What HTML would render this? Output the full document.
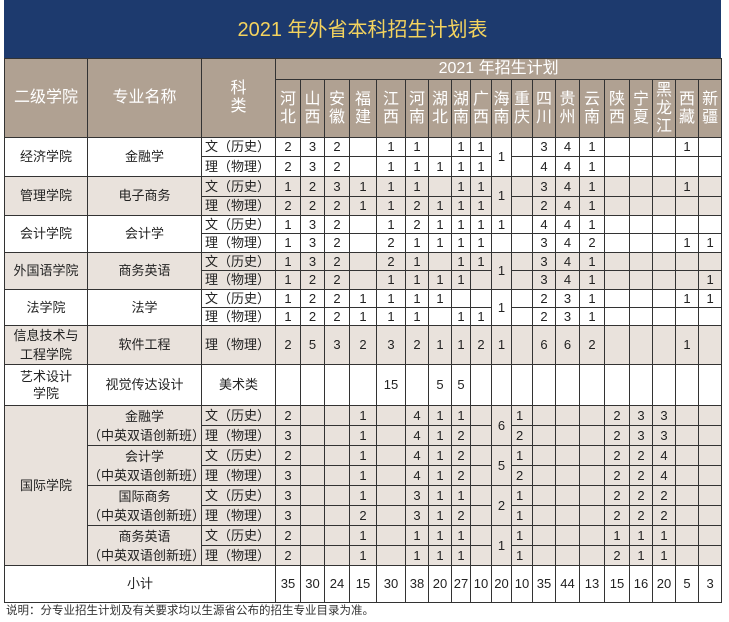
<!DOCTYPE html>
<html><head><meta charset="utf-8"><style>
body{margin:0;width:729px;height:622px;background:#fff;font-family:"Liberation Sans","Noto Sans CJK SC",sans-serif;position:relative;overflow:hidden}
.title{position:absolute;left:4px;top:0;width:717px;height:58px;background:#1d3a6e;color:#f4d35e;font-size:20px;line-height:60px;text-align:center}
table{position:absolute;left:4px;top:58px;border-collapse:collapse;table-layout:fixed;width:717px}
td{border:1px solid #333;padding:0;text-align:center;font-size:13px;line-height:14px;color:#222;overflow:hidden;white-space:nowrap}
thead td{background:#b0a192;color:#fff;font-size:16px;line-height:18px}
.b td{background:#e9e2dc}
.w td{background:#fff}
td.k{text-align:left;padding-left:3px;font-size:13px}
td.l{text-align:left;padding-left:4px}
td.m{line-height:19px}
.note{position:absolute;left:6px;top:604px;font-size:11.5px;line-height:14px;color:#333}
</style></head><body>
<div class="title">2021 年外省本科招生计划表</div>
<table>
<colgroup><col style="width:83px"><col style="width:114px"><col style="width:74px">
<col style="width:25px"><col style="width:24px"><col style="width:25px"><col style="width:27px"><col style="width:29px"><col style="width:23px"><col style="width:23px"><col style="width:19px"><col style="width:21px"><col style="width:20px"><col style="width:21px"><col style="width:23px"><col style="width:24px"><col style="width:25px"><col style="width:25px"><col style="width:23px"><col style="width:23px"><col style="width:23px"><col style="width:23px"></colgroup>
<thead>
<tr style="height:21px"><td rowspan="2">二级学院</td><td rowspan="2">专业名称</td><td rowspan="2">科<br>类</td><td colspan="19">2021 年招生计划</td></tr>
<tr style="height:58px"><td>河<br>北</td><td>山<br>西</td><td>安<br>徽</td><td>福<br>建</td><td>江<br>西</td><td>河<br>南</td><td>湖<br>北</td><td>湖<br>南</td><td>广<br>西</td><td>海<br>南</td><td>重<br>庆</td><td>四<br>川</td><td>贵<br>州</td><td>云<br>南</td><td>陕<br>西</td><td>宁<br>夏</td><td>黑<br>龙<br>江</td><td>西<br>藏</td><td>新<br>疆</td></tr>
</thead>
<tbody>
<tr class="w" style="height:19px"><td rowspan="2">经济学院</td><td rowspan="2">金融学</td><td class="k">文（历史）</td><td>2</td><td>3</td><td>2</td><td></td><td>1</td><td>1</td><td></td><td>1</td><td>1</td><td rowspan="2">1</td><td></td><td>3</td><td>4</td><td>1</td><td></td><td></td><td></td><td>1</td><td></td></tr>
<tr class="w" style="height:20px"><td class="k">理（物理）</td><td>2</td><td>3</td><td>2</td><td></td><td>1</td><td>1</td><td>1</td><td>1</td><td>1</td><td></td><td>4</td><td>4</td><td>1</td><td></td><td></td><td></td><td></td><td></td></tr>
<tr class="b" style="height:20px"><td rowspan="2">管理学院</td><td rowspan="2">电子商务</td><td class="k">文（历史）</td><td>1</td><td>2</td><td>3</td><td>1</td><td>1</td><td>1</td><td></td><td>1</td><td>1</td><td rowspan="2">1</td><td></td><td>3</td><td>4</td><td>1</td><td></td><td></td><td></td><td>1</td><td></td></tr>
<tr class="b" style="height:19px"><td class="k">理（物理）</td><td>2</td><td>2</td><td>2</td><td>1</td><td>1</td><td>2</td><td>1</td><td>1</td><td>1</td><td></td><td>2</td><td>4</td><td>1</td><td></td><td></td><td></td><td></td><td></td></tr>
<tr class="w" style="height:18px"><td rowspan="2">会计学院</td><td rowspan="2">会计学</td><td class="k">文（历史）</td><td>1</td><td>3</td><td>2</td><td></td><td>1</td><td>2</td><td>1</td><td>1</td><td>1</td><td>1</td><td></td><td>4</td><td>4</td><td>1</td><td></td><td></td><td></td><td></td><td></td></tr>
<tr class="w" style="height:19px"><td class="k">理（物理）</td><td>1</td><td>3</td><td>2</td><td></td><td>2</td><td>1</td><td>1</td><td>1</td><td>1</td><td></td><td></td><td>3</td><td>4</td><td>2</td><td></td><td></td><td></td><td>1</td><td>1</td></tr>
<tr class="b" style="height:18px"><td rowspan="2">外国语学院</td><td rowspan="2">商务英语</td><td class="k">文（历史）</td><td>1</td><td>3</td><td>2</td><td></td><td>2</td><td>1</td><td></td><td>1</td><td>1</td><td rowspan="2">1</td><td></td><td>3</td><td>4</td><td>1</td><td></td><td></td><td></td><td></td><td></td></tr>
<tr class="b" style="height:19px"><td class="k">理（物理）</td><td>1</td><td>2</td><td>2</td><td></td><td>1</td><td>1</td><td>1</td><td>1</td><td></td><td></td><td>3</td><td>4</td><td>1</td><td></td><td></td><td></td><td></td><td>1</td></tr>
<tr class="w" style="height:18px"><td rowspan="2">法学院</td><td rowspan="2">法学</td><td class="k">文（历史）</td><td>1</td><td>2</td><td>2</td><td>1</td><td>1</td><td>1</td><td>1</td><td></td><td></td><td rowspan="2">1</td><td></td><td>2</td><td>3</td><td>1</td><td></td><td></td><td></td><td>1</td><td>1</td></tr>
<tr class="w" style="height:18px"><td class="k">理（物理）</td><td>1</td><td>2</td><td>2</td><td>1</td><td>1</td><td>1</td><td></td><td>1</td><td>1</td><td></td><td>2</td><td>3</td><td>1</td><td></td><td></td><td></td><td></td><td></td></tr>
<tr class="b" style="height:38px"><td class="m">信息技术与<br>工程学院</td><td>软件工程</td><td class="k">理（物理）</td><td>2</td><td>5</td><td>3</td><td>2</td><td>3</td><td>2</td><td>1</td><td>1</td><td>2</td><td>1</td><td></td><td>6</td><td>6</td><td>2</td><td></td><td></td><td></td><td>1</td><td></td></tr>
<tr class="w" style="height:41px"><td style="line-height:17px">艺术设计<br>学院</td><td>视觉传达设计</td><td>美术类</td><td></td><td></td><td></td><td></td><td>15</td><td></td><td>5</td><td>5</td><td></td><td></td><td></td><td></td><td></td><td></td><td></td><td></td><td></td><td></td><td></td></tr>
<tr class="b" style="height:20px"><td rowspan="8">国际学院</td><td rowspan="2" class="m">金融学<br>（中英双语创新班）</td><td class="k">文（历史）</td><td>2</td><td></td><td></td><td>1</td><td></td><td>4</td><td>1</td><td>1</td><td></td><td rowspan="2">6</td><td class="l">1</td><td></td><td></td><td></td><td>2</td><td>3</td><td>3</td><td></td><td></td></tr>
<tr class="b" style="height:20px"><td class="k">理（物理）</td><td>3</td><td></td><td></td><td>1</td><td></td><td>4</td><td>1</td><td>2</td><td></td><td class="l">2</td><td></td><td></td><td></td><td>2</td><td>3</td><td>3</td><td></td><td></td></tr>
<tr class="b" style="height:20px"><td rowspan="2" class="m">会计学<br>（中英双语创新班）</td><td class="k">文（历史）</td><td>2</td><td></td><td></td><td>1</td><td></td><td>4</td><td>1</td><td>2</td><td></td><td rowspan="2">5</td><td class="l">1</td><td></td><td></td><td></td><td>2</td><td>2</td><td>4</td><td></td><td></td></tr>
<tr class="b" style="height:20px"><td class="k">理（物理）</td><td>3</td><td></td><td></td><td>1</td><td></td><td>4</td><td>1</td><td>2</td><td></td><td class="l">2</td><td></td><td></td><td></td><td>2</td><td>2</td><td>4</td><td></td><td></td></tr>
<tr class="b" style="height:20px"><td rowspan="2" class="m">国际商务<br>（中英双语创新班）</td><td class="k">文（历史）</td><td>3</td><td></td><td></td><td>1</td><td></td><td>3</td><td>1</td><td>1</td><td></td><td rowspan="2">2</td><td class="l">1</td><td></td><td></td><td></td><td>2</td><td>2</td><td>2</td><td></td><td></td></tr>
<tr class="b" style="height:20px"><td class="k">理（物理）</td><td>3</td><td></td><td></td><td>2</td><td></td><td>3</td><td>1</td><td>2</td><td></td><td class="l">1</td><td></td><td></td><td></td><td>2</td><td>2</td><td>2</td><td></td><td></td></tr>
<tr class="b" style="height:20px"><td rowspan="2" class="m">商务英语<br>（中英双语创新班）</td><td class="k">文（历史）</td><td>2</td><td></td><td></td><td>1</td><td></td><td>1</td><td>1</td><td>1</td><td></td><td rowspan="2">1</td><td class="l">1</td><td></td><td></td><td></td><td>1</td><td>1</td><td>1</td><td></td><td></td></tr>
<tr class="b" style="height:20px"><td class="k">理（物理）</td><td>2</td><td></td><td></td><td>1</td><td></td><td>1</td><td>1</td><td>1</td><td></td><td class="l">1</td><td></td><td></td><td></td><td>2</td><td>1</td><td>1</td><td></td><td></td></tr>
<tr class="w" style="height:37px"><td colspan="3">小计</td><td>35</td><td>30</td><td>24</td><td>15</td><td>30</td><td>38</td><td>20</td><td>27</td><td>10</td><td>20</td><td>10</td><td>35</td><td>44</td><td>13</td><td>15</td><td>16</td><td>20</td><td>5</td><td>3</td></tr>
</tbody></table>
<div class="note">说明：分专业招生计划及有关要求均以生源省公布的招生专业目录为准。</div>
</body></html>
